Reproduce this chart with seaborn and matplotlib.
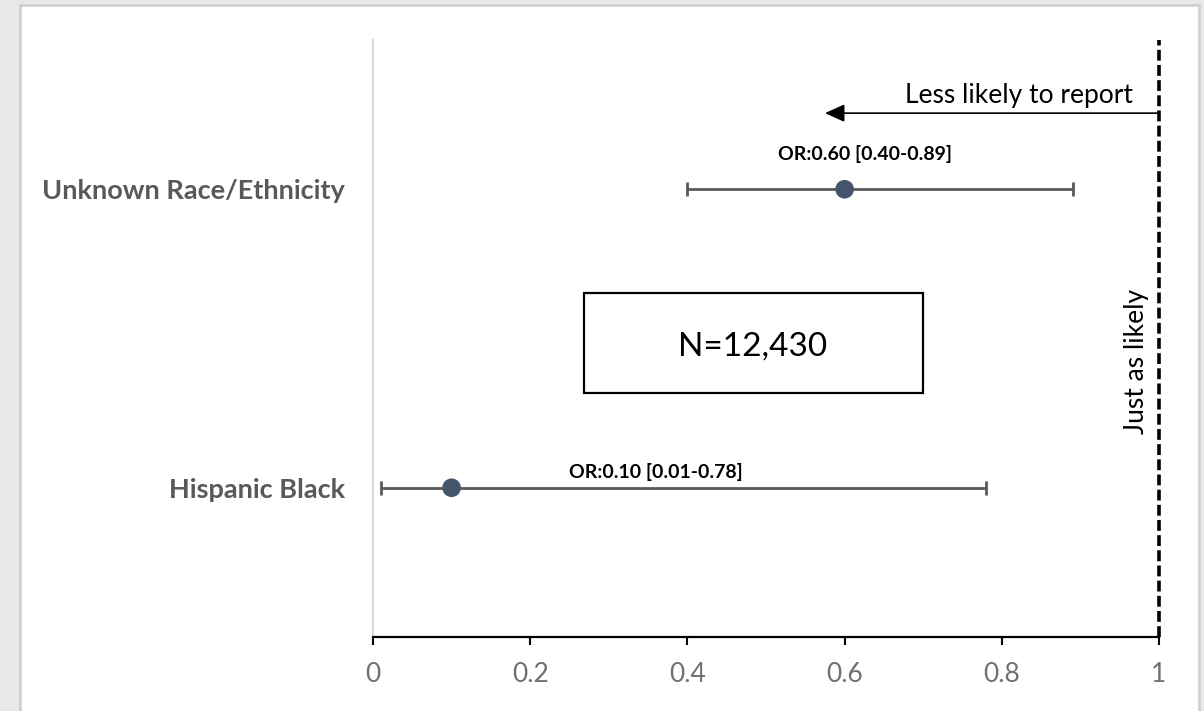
import matplotlib
matplotlib.use('Agg')
import matplotlib.pyplot as plt
from matplotlib.patches import Rectangle
import seaborn as sns
import pandas as pd

# Odds ratios with 95% CI
groups = ['Hispanic Black', 'Unknown Race/Ethnicity']
group_pos = [1, 3]
odds_ratio = [0.10, 0.60]
ci_low = [0.01, 0.40]
ci_high = [0.78, 0.89]
or_labels = ['OR:0.10 [0.01-0.78]', 'OR:0.60 [0.40-0.89]']
label_x = [0.36, 0.626]
label_y = [1.065, 3.196]
x_ticks = [0, 0.2, 0.4, 0.6, 0.8, 1]
x_ticklabels = ['0', '0.2', '0.4', '0.6', '0.8', '1']
sample_text = 'N=12,430'

df = pd.DataFrame({'group': groups, 'y': group_pos, 'OR': odds_ratio,
                   'low': ci_low, 'high': ci_high})

sns.set_theme(style='white')
plt.rcParams['font.family'] = ['Lato', 'DejaVu Sans']

fig = plt.figure(figsize=(12.04, 7.11), dpi=100, facecolor='#e8e8e8')
# white chart panel like the spreadsheet chart area
panel = Rectangle((20 / 1204, -0.01), 1179 / 1204, 1 - 5 / 711 + 0.01,
                  transform=fig.transFigure, facecolor='white',
                  edgecolor='#d0d0d0', linewidth=2, zorder=-10)
fig.patches.append(panel)

ax = fig.add_axes([373 / 1204, 1 - 637 / 711, 786 / 1204, 597 / 711])
ax.set_facecolor('none')
ax.set_zorder(5)

# confidence intervals
ax.errorbar(df['OR'], df['y'],
            xerr=[df['OR'] - df['low'], df['high'] - df['OR']],
            fmt='none', ecolor='#595959', elinewidth=2.0, capsize=5, capthick=2.0,
            zorder=2)
sns.scatterplot(data=df, x='OR', y='y', s=180, color='#44546A', edgecolor='none',
                ax=ax, zorder=3, legend=False)

for lx, ly, txt in zip(label_x, label_y, or_labels):
    ax.text(lx, ly, txt, ha='center', va='baseline', fontsize=14,
            fontweight='bold', color='black')

# reference line at OR = 1
ax.axvline(1, color='black', linewidth=2.6, dashes=(3.0, 1.2), zorder=4,
           clip_on=False)
ax.text(0.972, 1.849, 'Just as likely', rotation=90, ha='center', va='center',
        fontsize=19, color='black')

ax.annotate('', xy=(0.575, 3.51), xytext=(1.0, 3.51),
            arrowprops=dict(arrowstyle='-|>,head_length=1.0,head_width=0.45',
                            color='black', lw=1.2, shrinkA=0, shrinkB=0))
ax.text(0.967, 3.578, 'Less likely to report', ha='right', va='baseline',
        fontsize=19, color='black')

ax.add_patch(Rectangle((0.268, 1.635), 0.432, 0.67, facecolor='white',
                       edgecolor='black', linewidth=1.6, zorder=1))
ax.text(0.4835, 1.883, sample_text, ha='center', va='baseline', fontsize=24,
        color='black')

ax.set_xlim(0, 1)
ax.set_ylim(0, 4)
ax.set_xticks(x_ticks)
ax.set_xticklabels(x_ticklabels, fontsize=19, color='#707070')
ax.set_yticks(group_pos)
ax.set_yticklabels(groups, fontsize=19.5, fontweight='bold', color='#595959')
ax.tick_params(axis='x', direction='out', length=6, width=1.5, color='black',
               pad=12, bottom=True)
ax.tick_params(axis='y', length=0, pad=20)
ax.set_xlabel('')
ax.set_ylabel('')

for side in ['top', 'right']:
    ax.spines[side].set_visible(False)
ax.spines['bottom'].set_color('black')
ax.spines['bottom'].set_linewidth(1.6)
ax.spines['left'].set_color('#d9d9d9')
ax.spines['left'].set_linewidth(1.5)

fig.savefig('out.png', dpi=100, facecolor=fig.get_facecolor())
